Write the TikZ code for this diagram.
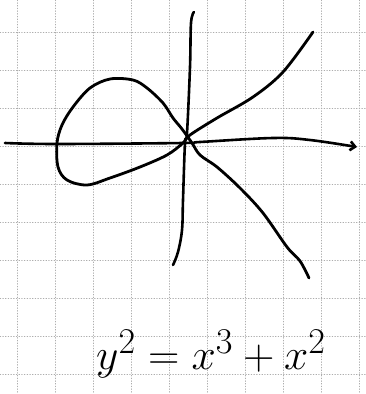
\documentclass[tikz,border=0pt]{standalone}
\usepackage{amsmath}
\usepackage{xcolor}
\usepackage{tikz}
\usetikzlibrary{arrows.meta}
\definecolor{g3}{gray}{0.68}

\begin{document}
\begin{tikzpicture}[x=1pt, y=-1pt, line cap=round, line join=round]
  \def\Gx{17}  \def\Gy{32}  \def\Gs{38}
  \useasboundingbox (0,0) rectangle (366,394);
  \fill[white] (0,0) rectangle (366,394);

  % squared paper
  \foreach \k in {0,...,9} {
    \draw[g3, dotted, line width=0.7pt] ({\Gx+\k*\Gs},0) -- ({\Gx+\k*\Gs},394);
    \draw[g3, dotted, line width=0.7pt] (0,{\Gy+\k*\Gs}) -- (366,{\Gy+\k*\Gs});
  }

  % axes
  \draw[line width=2.6pt, -{Straight Barb[length=5pt, width=9pt]}] plot[smooth, tension=0.6] coordinates
    {(5,143) (57,144) (183,143) (200,142) (273,138) (310,140) (357,147)};
  \draw[line width=2.6pt] plot[smooth, tension=0.6] coordinates
    {(194,12) (191,23) (190,67) (187,133) (185,143) (183,200) (182,230) (178,252) (173,265)};

  % the nodal cubic
  \draw[line width=2.8pt] plot[smooth, tension=0.55] coordinates
    {(313,32) (283,72) (253,97) (217,118) (190,135) (183,143) (167,155) (140,167) (110,178)
     (87,185) (67,180) (58,167) (57,143) (62,125) (73,107) (90,88) (110,79) (133,80)
     (147,88) (163,103) (173,118) (182,129) (192,143) (200,155) (217,167) (240,188)
     (263,213) (287,247) (300,261) (309,278)};

  \node[font=\Huge, scale=1.75] (eqn) at (211,354) {$y^2 = x^3 + x^2$};
\end{tikzpicture}
\end{document}
